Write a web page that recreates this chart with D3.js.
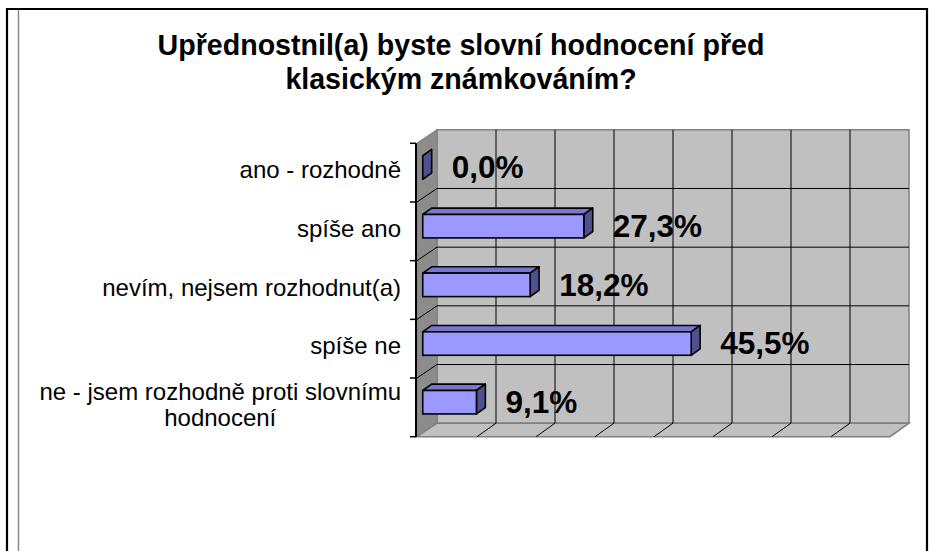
<!DOCTYPE html>
<html>
<head>
<meta charset="utf-8">
<script src="https://cdn.jsdelivr.net/npm/d3@7"></script>
<style>
  html, body { margin: 0; padding: 0; background: #fff; }
  svg { display: block; }
  text { font-family: "Liberation Sans", Arial, sans-serif; }
</style>
</head>
<body>
<svg id="chart" width="929" height="551"></svg>
<script>
// ---- data ----
const titleLines = ["Upřednostnil(a) byste slovní hodnocení před", "klasickým známkováním?"];
const categories = [
  "ano - rozhodně",
  "spíše ano",
  "nevím, nejsem rozhodnut(a)",
  "spíše ne",
  "ne - jsem rozhodně proti slovnímu hodnocení"
];
const values = [0.0, 27.3, 18.2, 45.5, 9.1];
const xTicks = [0, 10, 20, 30, 40, 50, 60, 70, 80];

// ---- layout ----
const W = 929, H = 551;
const svg = d3.select("#chart");
const fmt = v => d3.format(".1f")(v).replace(".", ",") + "%";

const x = d3.scaleLinear().domain([0, 80]).range([418, 890]);
const y = d3.scaleBand().domain(categories).range([143.3, 436.7]).paddingInner(0).paddingOuter(0);
const D = { x: 19, y: -13.5 };        // wall depth vector
const f1 = 0.25, f2 = 0.72;           // bar depth (front / back) fractions
const barTopFrac = 0.27, barHFrac = 0.40;

const y0 = y.range()[0], y1 = y.range()[1];
const x0 = x.range()[0], x1 = x.range()[1];
const bw = y.bandwidth();
const boundaries = categories.map(c => y(c)).concat([y1]);

// page frame
svg.append("path")
  .attr("d", `M7,${H} V9 H927 V${H}`)
  .attr("fill", "none").attr("stroke", "#000").attr("stroke-width", 2.2);
svg.append("line")
  .attr("x1", 18.5).attr("x2", 18.5).attr("y1", 10).attr("y2", H)
  .attr("stroke", "#8a8a8a").attr("stroke-width", 1.5);

// title
svg.append("text")
  .attr("x", 461).attr("y", 55)
  .attr("text-anchor", "middle")
  .attr("font-size", 28.6).attr("font-weight", "bold").attr("fill", "#000")
  .selectAll("tspan").data(titleLines).join("tspan")
  .attr("x", 461).attr("dy", (d, i) => i === 0 ? 0 : 33.5)
  .text(d => d);

const walls = svg.append("g");
const wallStroke = "#808080";

// back wall
walls.append("rect")
  .attr("x", x0 + D.x).attr("y", y0 + D.y)
  .attr("width", x1 - x0).attr("height", y1 - y0)
  .attr("fill", "#c0c0c0").attr("stroke", wallStroke).attr("stroke-width", 1.5);

// left wall
walls.append("path")
  .attr("d", `M${x0 - 1},${y0} L${x0 + D.x},${y0 + D.y} L${x0 + D.x},${y1 + D.y} L${x0 - 1},${y1} Z`)
  .attr("fill", "#8c8c8c").attr("stroke", wallStroke).attr("stroke-width", 1.2);

// floor
walls.append("path")
  .attr("d", `M${x0 - 1},${y1} L${x0 + D.x},${y1 + D.y} L${x1 + D.x},${y1 + D.y} L${x1},${y1} Z`)
  .attr("fill", "#c0c0c0").attr("stroke", wallStroke).attr("stroke-width", 1.5);

const innerTicks = xTicks.filter(t => t > xTicks[0] && t < xTicks[xTicks.length - 1]);
const innerBounds = boundaries.slice(1, -1);

// vertical gridlines on back wall
walls.selectAll(".vg").data(innerTicks).join("line")
  .attr("x1", d => x(d) + D.x).attr("x2", d => x(d) + D.x)
  .attr("y1", y0 + D.y).attr("y2", y1 + D.y)
  .attr("stroke", "#000").attr("stroke-width", 1);
// floor gridlines
walls.selectAll(".fg").data(innerTicks).join("line")
  .attr("x1", d => x(d)).attr("x2", d => x(d) + D.x)
  .attr("y1", y1).attr("y2", y1 + D.y)
  .attr("stroke", "#000").attr("stroke-width", 1);
// horizontal gridlines on back wall
walls.selectAll(".hg").data(innerBounds).join("line")
  .attr("x1", x0 + D.x).attr("x2", x1 + D.x)
  .attr("y1", d => d + D.y).attr("y2", d => d + D.y)
  .attr("stroke", "#000").attr("stroke-width", 1);
// left wall gridlines
walls.selectAll(".lg").data(innerBounds).join("line")
  .attr("x1", x0 - 1).attr("x2", x0 + D.x)
  .attr("y1", d => d).attr("y2", d => d + D.y)
  .attr("stroke", "#000").attr("stroke-width", 1);

// category axis line & ticks
const axisX = x0 - 2;
svg.append("line")
  .attr("x1", axisX).attr("x2", axisX).attr("y1", y0).attr("y2", y1)
  .attr("stroke", "#000").attr("stroke-width", 2);
svg.selectAll(".tk").data(boundaries).join("line")
  .attr("x1", axisX - 6).attr("x2", axisX)
  .attr("y1", d => d).attr("y2", d => d)
  .attr("stroke", "#000").attr("stroke-width", 1.5);

// bars (3D)
const bars = svg.append("g");
const data = categories.map((c, i) => ({ c, v: values[i] }));
function geom(d) {
  const fx = x(0) + f1 * D.x;
  const ex = x(d.v) + f1 * D.x;
  const top = y(d.c) + barTopFrac * bw + f1 * D.y;
  const bot = top + barHFrac * bw;
  const ddx = (f2 - f1) * D.x, ddy = (f2 - f1) * D.y;
  return { fx, ex, top, bot, ddx, ddy };
}
const barStroke = "#000", bsw = 1.6;
// top faces
bars.selectAll(".top").data(data.filter(d => d.v > 0)).join("path")
  .attr("d", d => { const g = geom(d);
    return `M${g.fx},${g.top} L${g.fx + g.ddx},${g.top + g.ddy} L${g.ex + g.ddx},${g.top + g.ddy} L${g.ex},${g.top} Z`; })
  .attr("fill", "#7777cc").attr("stroke", barStroke).attr("stroke-width", bsw).attr("stroke-linejoin", "round");
// side faces
bars.selectAll(".side").data(data).join("path")
  .attr("d", d => { const g = geom(d);
    return `M${g.ex},${g.top} L${g.ex + g.ddx},${g.top + g.ddy} L${g.ex + g.ddx},${g.bot + g.ddy} L${g.ex},${g.bot} Z`; })
  .attr("fill", "#505090").attr("stroke", barStroke).attr("stroke-width", bsw).attr("stroke-linejoin", "round");
// front faces
bars.selectAll(".front").data(data.filter(d => d.v > 0)).join("rect")
  .attr("x", d => geom(d).fx).attr("y", d => geom(d).top)
  .attr("width", d => geom(d).ex - geom(d).fx).attr("height", d => geom(d).bot - geom(d).top)
  .attr("fill", "#9999ff").attr("stroke", barStroke).attr("stroke-width", bsw);

// value labels
svg.selectAll(".vl").data(data).join("text")
  .attr("x", d => geom(d).ex + 29)
  .attr("y", d => (geom(d).top + geom(d).bot) / 2 + 10.8)
  .attr("font-size", 31.5).attr("font-weight", "bold").attr("fill", "#000")
  .text(d => fmt(d.v));

// category labels with wrapping
const labelRight = 401, maxW = 372, lineH = 26.7;
const catG = svg.append("g");
categories.forEach(c => {
  const t = catG.append("text").attr("font-size", 24).attr("fill", "#000");
  const words = c.split(" ");
  const lines = [];
  let cur = [];
  const probe = t.append("tspan");
  words.forEach(w => {
    const test = cur.concat([w]).join(" ");
    probe.text(test);
    if (probe.node().getComputedTextLength() > maxW && cur.length) {
      lines.push(cur.join(" "));
      cur = [w];
    } else cur.push(w);
  });
  lines.push(cur.join(" "));
  probe.remove();
  const widths = lines.map(l => { const s = t.append("tspan").text(l); const w = s.node().getComputedTextLength(); s.remove(); return w; });
  const blockW = d3.max(widths);
  const cx = labelRight - blockW / 2;
  const cy = y(c) + bw / 2 + 5.5 - (lines.length - 1) * lineH / 2;
  t.attr("text-anchor", "middle");
  t.selectAll("tspan").data(lines).join("tspan")
    .attr("x", cx).attr("y", (d, i) => cy + i * lineH)
    .text(d => d);
});
</script>
</body>
</html>
